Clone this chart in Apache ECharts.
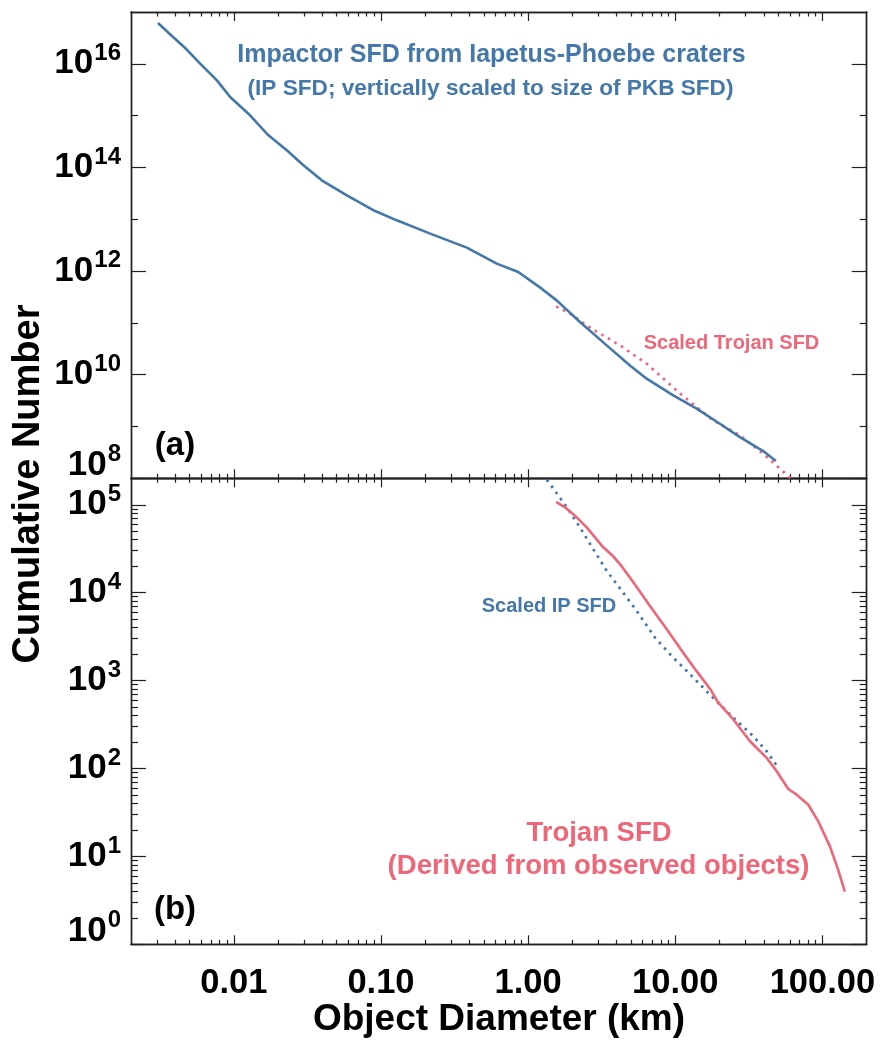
<!DOCTYPE html>
<html>
<head>
<meta charset="utf-8">
<script src="https://cdn.jsdelivr.net/npm/echarts@6/dist/echarts.min.js"></script>
<style>
html,body{margin:0;padding:0;background:#fff;}
#chart{width:883px;height:1042px;}
</style>
</head>
<body>
<div id="chart"></div>
<script>
// ---------------- data ----------------
// Panel (a): impactor SFD from Iapetus-Phoebe craters (IP SFD)
const ipDiam = [0.00305,0.00386,0.00467,0.0059,0.00767,0.00944,0.01256,0.01718,0.0229,0.0297,0.0396,0.0586,0.0912,0.128,0.216,0.383,0.612,0.857,1.236,1.563,2.25,3.42,4.92,6.39,9.69,13.97,20.1,27.5,39.6,48.3];
const ipN = [6.14e16,3.29e16,2.02e16,1.01e16,4.8e15,2.29e15,1.09e15,4.17e14,2.14e14,1.1e14,5.64e13,2.89e13,1.44e13,9.53e12,5.27e12,2.83e12,1.39e12,9.57e11,4.57e11,2.72e11,1.04e11,3.68e10,1.51e10,8.38e9,3.98e9,2.21e9,1.13e9,6.24e8,3.35e8,2.15e8];
// Panel (a): scaled Trojan SFD (dotted)
const trojScaledDiam = [1.55,1.93,2.70,4.21,6.39,10.8,18.1,27.5,39.6,50.1,61.0];
const trojScaledN = [2.08e11,1.51e11,7.73e10,3.68e10,1.63e10,4.3e9,1.31e9,6.73e8,2.99e8,1.64e8,1.0e8];
// Panel (b): Trojan SFD derived from observed objects
const trojDiam = [1.55,1.78,2.08,2.50,3.24,3.79,4.33,5.19,6.73,8.75,11.3,13.97,17.2,19.6,24.8,32.2,41.8,48.9,58.6,66.8,80.2,93.7,112.5,128,142];
const trojN = [1.08e5,9.36e4,7.51e4,5.54e4,3.28e4,2.59e4,1.99e4,1.31e4,7.07e3,3.84e3,2.08e3,1.28e3,809,560,361,204,132,93,58.5,50.4,38.7,25.0,13.0,7.03,3.98];
// Panel (b): scaled IP SFD (dotted)
const ipScaledDiam = [1.34,1.56,1.83,2.25,2.77,3.42,4.33,5.47,7.28,9.46,12.6,16.7,20.1,24.2,33.9,41.8,48.9];
const ipScaledN = [1.93e5,1.36e5,9.36e4,5.54e4,3.13e4,1.77e4,1.05e4,6.2e3,3.08e3,1.9e3,1.18e3,728,535,394,233,157,108];

// ---------------- ticks ----------------
const xTickValues = [0.01, 0.1, 1, 10, 100];
const xTickLabels = ['0.01', '0.10', '1.00', '10.00', '100.00'];
const yTopTickValues = [1e8, 1e10, 1e12, 1e14, 1e16];
const yTopTickExps = ['8', '10', '12', '14', '16'];
const yTopMinorValues = [1e9, 1e11, 1e13, 1e15];
const yBotTickValues = [1, 10, 100, 1000, 1e4, 1e5];
const yBotTickExps = ['0', '1', '2', '3', '4', '5'];
const minorMult = [2, 3, 4, 5, 6, 7, 8, 9];
const xDecades = [0.001, 0.01, 0.1, 1, 10, 100];
const yBotDecades = [1, 10, 100, 1000, 1e4, 1e5];

const xMinorValues = [];
xDecades.forEach(d => minorMult.forEach(m => { const v = d * m; if (v > 0.0021 && v < 199) xMinorValues.push(v); }));
const yBotMinorValues = [];
yBotDecades.forEach(d => minorMult.forEach(m => { const v = d * m; if (v < 1.99e5) yBotMinorValues.push(v); }));

// ---------------- style ----------------
const FONT = '"Liberation Sans", Arial, Helvetica, sans-serif';
const BLUE = '#4477AA';
const RED = '#EE6677';
const AX = '#222';

const grids = [
  { left: 131, right: 16.3, top: 12, height: 466.3 },
  { left: 131, right: 16.3, top: 478.3, height: 466 }
];

function xAx(gi, pos, ticks, len, withLabels) {
  const a = {
    type: 'log', gridIndex: gi, position: pos, min: 0.002, max: 200, logBase: 10,
    axisLine: { show: true, lineStyle: { color: AX, width: 1.4 } },
    axisTick: { show: true, inside: true, length: len, customValues: ticks, lineStyle: { color: AX, width: 1.2 } },
    axisLabel: { show: false },
    splitLine: { show: false },
    minorTick: { show: false }
  };
  if (withLabels) {
    a.axisLabel = {
      show: true, customValues: xTickValues, margin: 22,
      fontFamily: FONT, fontWeight: 'bold', fontSize: 34.5, color: '#000',
      formatter: function (v) {
        let best = 0, bd = Infinity;
        xTickValues.forEach((t, i) => { const d = Math.abs(Math.log10(v) - Math.log10(t)); if (d < bd) { bd = d; best = i; } });
        return xTickLabels[best];
      }
    };
  }
  return a;
}

function yAx(gi, pos, min, max, ticks, len, labelVals, labelExps, edgeVal) {
  const a = {
    type: 'log', gridIndex: gi, position: pos, min: min, max: max, logBase: 10,
    axisLine: { show: true, lineStyle: { color: AX, width: 1.4 } },
    axisTick: { show: true, inside: true, length: len, customValues: ticks, lineStyle: { color: AX, width: 1.2 } },
    axisLabel: { show: false },
    splitLine: { show: false },
    minorTick: { show: false }
  };
  if (labelVals) {
    a.axisLabel = {
      show: true, customValues: labelVals, margin: 10,
      formatter: function (v) {
        let best = 0, bd = Infinity;
        labelVals.forEach((t, i) => { const d = Math.abs(Math.log10(v) - Math.log10(t)); if (d < bd) { bd = d; best = i; } });
        const e = labelExps[best];
        if (Math.abs(Math.log10(v) - Math.log10(edgeVal)) < 0.01) return '{bu|10}{su|' + e + '}';
        return '{b|10}{s|' + e + '}';
      },
      rich: {
        b: { fontFamily: FONT, fontWeight: 'bold', fontSize: 35, color: '#000' },
        s: { fontFamily: FONT, fontWeight: 'bold', fontSize: 24, color: '#000', padding: [0, 0, 21, 1] },
        bu: { fontFamily: FONT, fontWeight: 'bold', fontSize: 35, color: '#000', padding: [0, 0, 26, 0] },
        su: { fontFamily: FONT, fontWeight: 'bold', fontSize: 24, color: '#000', padding: [0, 0, 47, 1] }
      }
    };
  }
  return a;
}

const xAxes = [
  xAx(0, 'bottom', xTickValues, 9, false),   // 0: main for panel a
  xAx(0, 'bottom', xMinorValues, 4.5, false),
  xAx(0, 'top', xTickValues, 9, false),
  xAx(0, 'top', xMinorValues, 4.5, false),
  xAx(1, 'bottom', xTickValues, 9, true),    // 4: main for panel b
  xAx(1, 'bottom', xMinorValues, 4.5, false),
  xAx(1, 'top', xTickValues, 9, false),
  xAx(1, 'top', xMinorValues, 4.5, false)
];

const yAxes = [
  yAx(0, 'left', 1e8, 1e17, yTopTickValues, 15, yTopTickValues, yTopTickExps, 1e8), // 0: main panel a
  yAx(0, 'left', 1e8, 1e17, yTopMinorValues, 7),
  yAx(0, 'right', 1e8, 1e17, yTopTickValues, 15),
  yAx(0, 'right', 1e8, 1e17, yTopMinorValues, 7),
  yAx(1, 'left', 1, 2e5, yBotTickValues, 15, yBotTickValues, yBotTickExps, 1), // 4: main panel b
  yAx(1, 'left', 1, 2e5, yBotMinorValues, 7),
  yAx(1, 'right', 1, 2e5, yBotTickValues, 15),
  yAx(1, 'right', 1, 2e5, yBotMinorValues, 7)
];

function pairs(xs, ys) { return xs.map((x, i) => [x, ys[i]]); }

const series = [
  { name: 'IP SFD', type: 'line', xAxisIndex: 0, yAxisIndex: 0, data: pairs(ipDiam, ipN),
    showSymbol: false, symbol: 'none', lineStyle: { color: BLUE, width: 2.6 }, animation: false, z: 3 },
  { name: 'Scaled Trojan SFD', type: 'line', xAxisIndex: 0, yAxisIndex: 0, data: pairs(trojScaledDiam, trojScaledN),
    showSymbol: false, symbol: 'none', lineStyle: { color: RED, width: 2.7, type: [2.6, 5.0], cap: 'butt' }, animation: false, z: 2 },
  { name: 'Trojan SFD', type: 'line', xAxisIndex: 4, yAxisIndex: 4, data: pairs(trojDiam, trojN),
    showSymbol: false, symbol: 'none', lineStyle: { color: RED, width: 2.6 }, animation: false, z: 3 },
  { name: 'Scaled IP SFD', type: 'line', xAxisIndex: 4, yAxisIndex: 4, data: pairs(ipScaledDiam, ipScaledN),
    showSymbol: false, symbol: 'none', lineStyle: { color: BLUE, width: 2.7, type: [2.6, 5.0], cap: 'butt' }, animation: false, z: 2 }
];

function txt(text, x, y, size, color, rot) {
  return { type: 'text', x: x, y: y, rotation: rot || 0, z: 10,
    style: { text: text, fill: color, font: 'bold ' + size + 'px ' + FONT, align: 'center', verticalAlign: 'middle' } };
}

const graphic = [
  txt('Impactor SFD from Iapetus-Phoebe craters', 491.5, 55, 25, BLUE),
  txt('(IP SFD; vertically scaled to size of PKB SFD)', 490.5, 89, 22.6, BLUE),
  txt('Scaled Trojan SFD', 731.5, 343, 20, RED),
  txt('(a)', 175, 446, 33, '#000'),
  txt('Scaled IP SFD', 549, 606, 20, BLUE),
  txt('Trojan SFD', 599, 833, 27.5, RED),
  txt('(Derived from observed objects)', 598.5, 866, 27.5, RED),
  txt('(b)', 175, 910, 33, '#000'),
  txt('Object Diameter (km)', 499, 1020, 37, '#000'),
  txt('Cumulative Number', 29, 484, 38, '#000', Math.PI / 2)
];

const chart = echarts.init(document.getElementById('chart'), null, { renderer: 'canvas' });
chart.setOption({
  backgroundColor: '#fff',
  animation: false,
  grid: grids,
  xAxis: xAxes,
  yAxis: yAxes,
  series: series,
  graphic: graphic
});
</script>
</body>
</html>
